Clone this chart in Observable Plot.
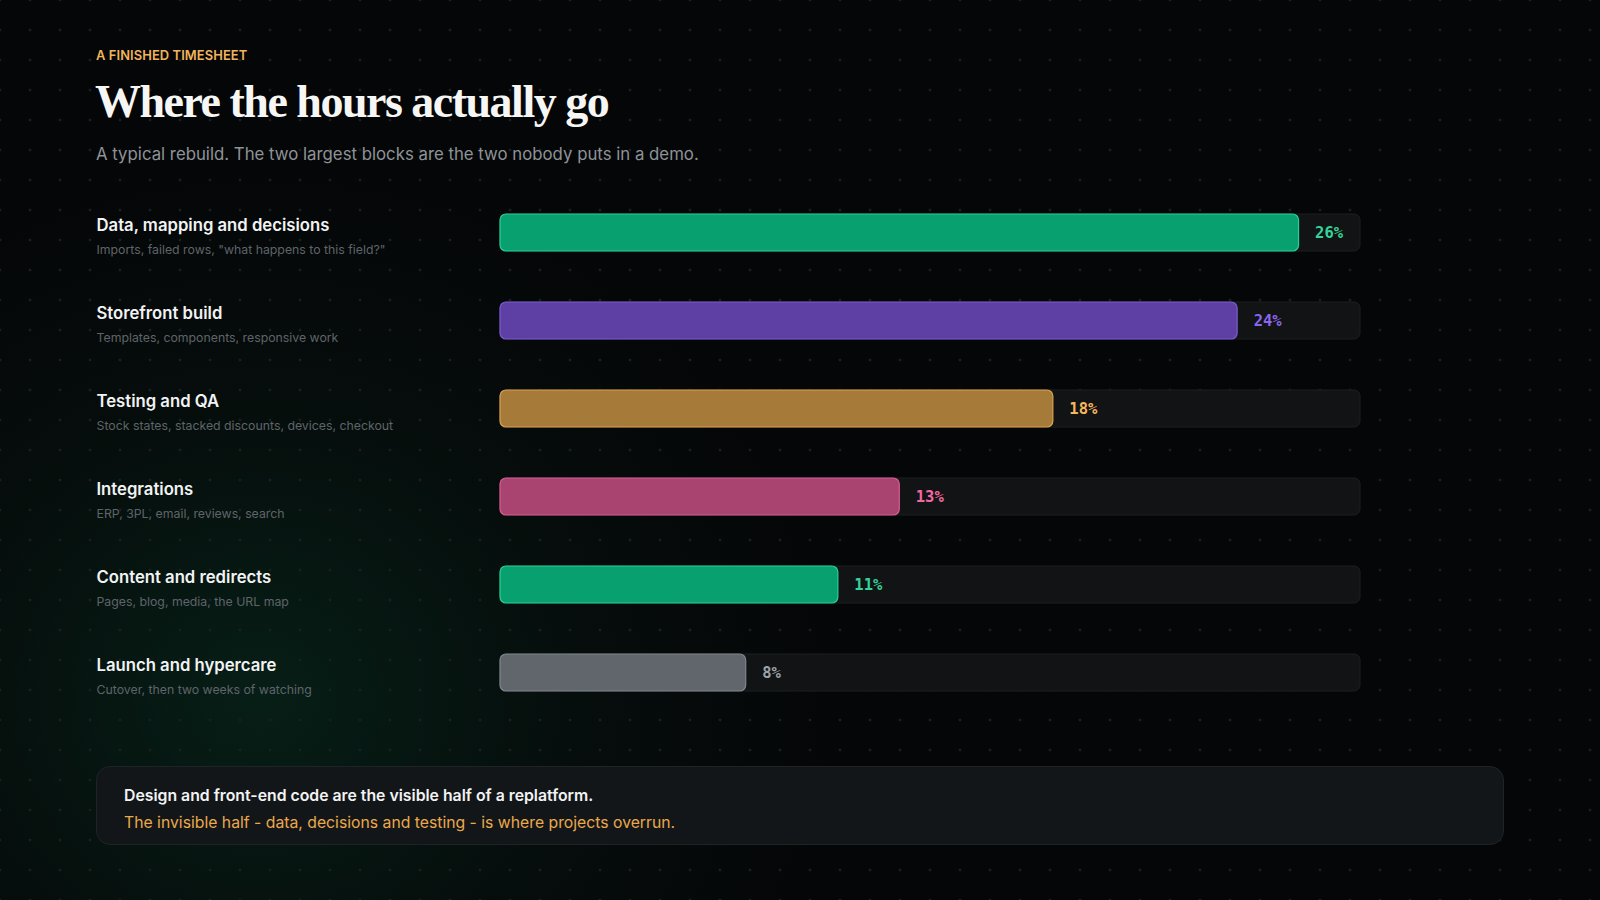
<!DOCTYPE html>
<html>
<head>
<meta charset="utf-8">
<script src="https://cdn.jsdelivr.net/npm/d3@7"></script>
<script src="https://cdn.jsdelivr.net/npm/@observablehq/plot@0.6"></script>
<style>
  html, body { margin: 0; padding: 0; }
  body {
    width: 1600px; height: 900px; overflow: hidden; position: relative;
    font-family: Inter, "Noto Sans", sans-serif;
    background:
      radial-gradient(circle, #1b1f21 1.1px, transparent 1.7px) 15px 15px / 30px 30px,
      radial-gradient(ellipse 580px 540px at 260px 700px, rgba(16,150,100,0.17), rgba(16,150,100,0.05) 55%, transparent 100%),
      #050607;
  }
  .eyebrow { position: absolute; left: 96px; top: 48px; font-size: 12.9px; font-weight: 600; color: #f0b55c; letter-spacing: 0.1px; }
  .title { position: absolute; left: 95px; top: 77px; font-family: "Liberation Serif", serif; font-weight: 700; font-size: 46px; color: #f6f6f4; letter-spacing: -1.5px; line-height: 1.1; }
  .subtitle { position: absolute; left: 96px; top: 144px; font-size: 16.8px; color: #8e9398; }
  #chart { position: absolute; left: 0; top: 180px; }
  .note { position: absolute; left: 96px; top: 766px; width: 1408px; height: 79px; box-sizing: border-box;
    border-radius: 14px; background: #131618; border: 1px solid #1f2326; }
  .note .l1 { position: absolute; left: 27px; top: 19px; font-size: 15.8px; font-weight: 600; color: #f2f3f4; }
  .note .l2 { position: absolute; left: 27px; top: 46px; font-size: 15.75px; color: #eaa94c; }
</style>
</head>
<body>
<div class="eyebrow">A FINISHED TIMESHEET</div>
<div class="title">Where the hours actually go</div>
<div class="subtitle">A typical rebuild. The two largest blocks are the two nobody puts in a demo.</div>
<div id="chart"></div>
<div class="note">
  <div class="l1">Design and front-end code are the visible half of a replatform.</div>
  <div class="l2">The invisible half - data, decisions and testing - is where projects overrun.</div>
</div>
<script>
const categories = [
  "Data, mapping and decisions",
  "Storefront build",
  "Testing and QA",
  "Integrations",
  "Content and redirects",
  "Launch and hypercare"
];
const details = [
  "Imports, failed rows, \"what happens to this field?\"",
  "Templates, components, responsive work",
  "Stock states, stacked discounts, devices, checkout",
  "ERP, 3PL, email, reviews, search",
  "Pages, blog, media, the URL map",
  "Cutover, then two weeks of watching"
];
const shares = [26, 24, 18, 13, 11, 8];
const trackMax = 28;

const barFills   = ["#08a06f", "#5e40a5", "#a67a38", "#a8446f", "#08a06f", "#60666c"];
const barStrokes = ["#2bcf95", "#7a5bd0", "#dba24e", "#d85c93", "#2bcf95", "#80868c"];
const labelFills = ["#34d399", "#8a66ec", "#f5b75a", "#f06aa0", "#34d399", "#9ca2a8"];

const rows = categories.map((c, i) => ({
  name: c, detail: details[i], share: shares[i],
  fill: barFills[i], stroke: barStrokes[i], label: labelFills[i], max: trackMax
}));

const chart = Plot.plot({
  width: 1600,
  height: 560,
  marginLeft: 500,
  marginRight: 240,
  marginTop: 6,
  marginBottom: 22,
  style: { background: "transparent", fontFamily: "Inter, 'Noto Sans', sans-serif", overflow: "visible" },
  x: { domain: [0, trackMax], axis: null },
  y: { domain: categories, axis: null, paddingInner: 0.585, paddingOuter: 0.2925 },
  marks: [
    Plot.barX(rows, { y: "name", x1: 0, x2: "max", fill: "#111315", stroke: "#1d2023", strokeWidth: 1, rx: 6, inset: 0 }),
    Plot.barX(rows, { y: "name", x1: 0, x2: "share", fill: d => d.fill, stroke: d => d.stroke, strokeWidth: 1.2, rx: 6, inset: 0 }),
    Plot.text(rows, { x: "share", y: "name", text: d => d.share + "%", dx: 16, textAnchor: "start",
      fill: d => d.label, fontFamily: "'DejaVu Sans Mono', monospace", fontWeight: 700, fontSize: 15.5 }),
    Plot.text(rows, { y: "name", text: "name", frameAnchor: "left", dx: -404, dy: -7, textAnchor: "start",
      fill: "#f2f3f4", fontSize: 16.7, fontWeight: 600 }),
    Plot.text(rows, { y: "name", text: "detail", frameAnchor: "left", dx: -404, dy: 17.5, textAnchor: "start",
      fill: "#5f6469", fontSize: 12.3 })
  ]
});
document.getElementById("chart").appendChild(chart);
</script>
</body>
</html>
